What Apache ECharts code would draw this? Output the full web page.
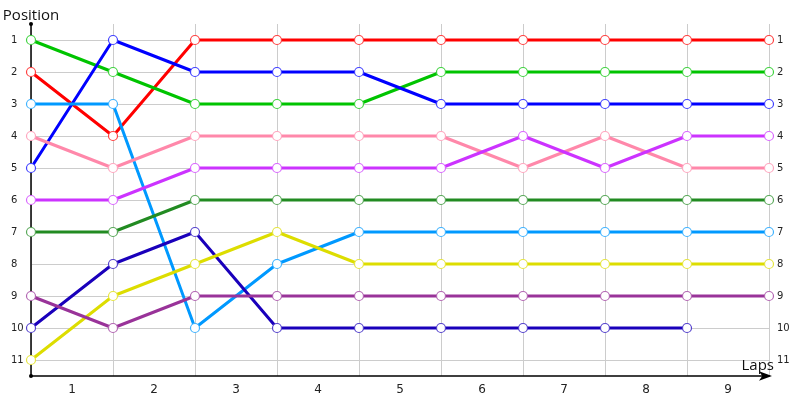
<!DOCTYPE html>
<html><head><meta charset="utf-8">
<script src="https://cdn.jsdelivr.net/npm/echarts@6/dist/echarts.min.js"></script>
<style>html,body{margin:0;padding:0;background:#fff}#c{width:800px;height:400px}</style>
</head><body><div id="c"></div>
<script>
// ---- data ----
const lapLabels = ['1','2','3','4','5','6','7','8','9'];
const positionLabels = ['1','2','3','4','5','6','7','8','9','10','11'];
const checkpoints = [0,1,2,3,4,5,6,7,8,9];

const redCar       = [2,4,1,1,1,1,1,1,1,1];
const greenCar     = [1,2,3,3,3,2,2,2,2,2];
const blueCar      = [5,1,2,2,2,3,3,3,3,3];
const skyCar       = [3,3,10,8,7,7,7,7,7,7];
const pinkCar      = [4,5,4,4,4,4,5,4,5,5];
const violetCar    = [6,6,5,5,5,5,4,5,4,4];
const forestCar    = [7,7,6,6,6,6,6,6,6,6];
const navyCar      = [10,8,7,10,10,10,10,10,10,null];
const yellowCar    = [11,9,8,7,8,8,8,8,8,8];
const plumCar      = [9,10,9,9,9,9,9,9,9,9];

const cars = [
  {name:'Red',    values: redCar,    color:'#ff0000'},
  {name:'Green',  values: greenCar,  color:'#00c400'},
  {name:'Blue',   values: blueCar,   color:'#0000ff'},
  {name:'Sky',    values: skyCar,    color:'#0099ff'},
  {name:'Pink',   values: pinkCar,   color:'#ff88aa'},
  {name:'Violet', values: violetCar, color:'#cc33ff'},
  {name:'Forest', values: forestCar, color:'#228b22'},
  {name:'Navy',   values: navyCar,   color:'#1a00bb'},
  {name:'Yellow', values: yellowCar, color:'#dddd00'},
  {name:'Plum',   values: plumCar,   color:'#993399'}
];

function lighten(hex, t){
  const n = parseInt(hex.slice(1),16);
  const r=(n>>16)&255,g=(n>>8)&255,b=n&255;
  const f=c=>Math.round(c+(255-c)*t);
  return 'rgb('+f(r)+','+f(g)+','+f(b)+')';
}

const series = cars.map(c => ({
  name: c.name,
  type: 'line',
  data: checkpoints.map((x,i)=>[x, c.values[i]]).filter(p=>p[1]!=null),
  symbol: 'circle',
  symbolSize: 9,
  showAllSymbol: true,
  lineStyle: {color: c.color, width: 3},
  itemStyle: {color: '#ffffff', borderColor: lighten(c.color, 0.25), borderWidth: 1.2},
  emphasis: {disabled: true}
}));

const posValues = positionLabels.map((_,i)=>i+1);
const yLabelFont = {fontFamily:'DejaVu Sans', fontSize:10, color:'#222'};
const xLabelFont = {fontFamily:'DejaVu Sans', fontSize:12, color:'#222'};

const chart = echarts.init(document.getElementById('c'), null, {renderer:'canvas'});
chart.setOption({
  animation: false,
  backgroundColor: '#ffffff',
  title: {
    text: 'Laps', right: 26, bottom: 27, padding: 0,
    textStyle: {fontFamily:'Open Sans', fontSize:15, fontWeight:'normal', color:'#111'}
  },
  grid: {left: 31, right: 31, top: 24, bottom: 24, containLabel: false, outerBoundsMode: 'none'},
  xAxis: {
    type: 'value', min: 0, max: 9, interval: 1,
    axisLine: {show: true, lineStyle: {color:'#000', width: 1.5}, symbol: ['none','arrow'], symbolSize: [7,13], symbolOffset: [0, 3]},
    axisTick: {show: false},
    splitLine: {show: true, lineStyle: {color:'#cccccc', width: 1}},
    axisLabel: Object.assign({
      customValues: lapLabels.map((_,i)=>i+0.5),
      formatter: v => lapLabels[Math.floor(v)],
      margin: 8
    }, xLabelFont)
  },
  yAxis: [{
    type: 'value', inverse: true, min: 0.5, max: 11.5,
    name: 'Position', nameLocation: 'start', nameGap: 1,
    nameTextStyle: {fontFamily:'Open Sans', fontSize:15, color:'#111', align:'center', verticalAlign:'bottom'},
    axisLine: {show: true, lineStyle: {color:'#000', width: 1.5}, symbol: ['circle','circle'], symbolSize: [4,4]},
    axisTick: {show: false, customValues: posValues},
    splitLine: {show: true, lineStyle: {color:'#cccccc', width: 1}},
    axisLabel: Object.assign({
      customValues: posValues,
      formatter: v => positionLabels[v-1],
      align: 'left', margin: 20
    }, yLabelFont)
  },{
    type: 'value', inverse: true, min: 0.5, max: 11.5, position: 'right',
    axisLine: {show: false},
    axisTick: {show: false, customValues: posValues},
    splitLine: {show: false},
    axisLabel: Object.assign({
      customValues: posValues,
      formatter: v => positionLabels[v-1],
      align: 'left', margin: 8
    }, yLabelFont)
  }],
  series: series
});
</script></body></html>
